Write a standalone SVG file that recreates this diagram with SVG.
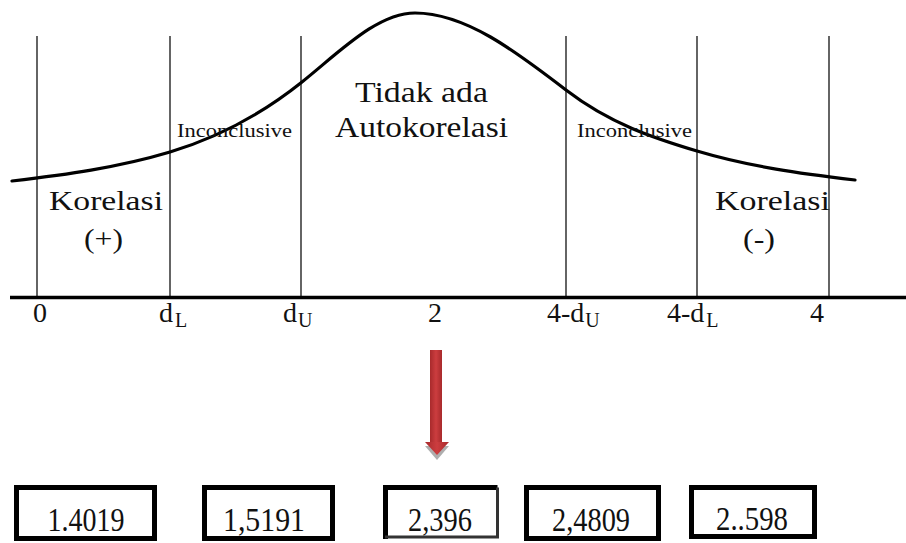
<svg xmlns="http://www.w3.org/2000/svg" width="906" height="543" viewBox="0 0 906 543">
<defs>
<style>
.t{font-family:"Liberation Serif","Times New Roman",serif;fill:#111}
.vl{stroke:#111;stroke-width:1.3}
.box{fill:#fff;stroke:#000;stroke-width:5}
.num{font-family:"Liberation Serif","Times New Roman",serif;font-size:34px;fill:#111;text-anchor:middle}
</style>
<linearGradient id="red" x1="0" y1="0" x2="1" y2="0">
<stop offset="0" stop-color="#a82a2c"/>
<stop offset="0.5" stop-color="#cc3d3f"/>
<stop offset="1" stop-color="#a82a2c"/>
</linearGradient>
</defs>
<rect width="906" height="543" fill="#fff"/>

<g id="grid">
<line class="vl" x1="37" y1="36" x2="37" y2="297"/>
<line class="vl" x1="170" y1="36" x2="170" y2="297"/>
<line class="vl" x1="301" y1="36" x2="301" y2="297"/>
<line class="vl" x1="566" y1="36" x2="566" y2="297"/>
<line class="vl" x1="697" y1="36" x2="697" y2="297"/>
<line class="vl" x1="829" y1="36" x2="829" y2="297"/>
<line x1="10" y1="297.5" x2="906" y2="297.5" stroke="#000" stroke-width="3.5"/>
</g>

<g id="curve">
<path d="M12,181 C64.7,174.7 117.3,167.8 170,152 C214,138.8 258,117.2 302,82 C339.7,51.8 377.3,13 415,13 C465.3,13 515.7,51.3 566,90 C609.7,123.6 653.3,137.9 697,151 C749.7,166.8 802.3,173.7 855,180" fill="none" stroke="#000" stroke-width="3.2" stroke-linecap="round"/>
</g>

<g id="labels">
<text class="t" x="355" y="102" font-size="30" textLength="133" lengthAdjust="spacingAndGlyphs">Tidak ada</text>
<text class="t" x="335" y="137" font-size="30" textLength="173" lengthAdjust="spacingAndGlyphs">Autokorelasi</text>
<text class="t" x="177" y="137" font-size="19" textLength="115" lengthAdjust="spacingAndGlyphs">Inconclusive</text>
<text class="t" x="577" y="137" font-size="19" textLength="115" lengthAdjust="spacingAndGlyphs">Inconclusive</text>
<text class="t" x="49" y="210" font-size="28" textLength="114" lengthAdjust="spacingAndGlyphs">Korelasi</text>
<text class="t" x="84" y="248" font-size="28" textLength="39" lengthAdjust="spacingAndGlyphs">(+)</text>
<text class="t" x="715" y="210" font-size="28" textLength="115" lengthAdjust="spacingAndGlyphs">Korelasi</text>
<text class="t" x="743" y="248" font-size="28" textLength="32" lengthAdjust="spacingAndGlyphs">(-)</text>
</g>

<g id="axis-labels">
<text class="t" x="33" y="322" font-size="28">0</text>
<text class="t" x="159" y="322" font-size="28">d<tspan font-size="20" dy="5" dx="2">L</tspan></text>
<text class="t" x="283" y="322" font-size="28">d<tspan font-size="20" dy="5" dx="1">U</tspan></text>
<text class="t" x="428" y="322" font-size="28">2</text>
<text class="t" x="547" y="322" font-size="28">4-d<tspan font-size="20" dy="5" dx="1">U</tspan></text>
<text class="t" x="667" y="322" font-size="28">4-d<tspan font-size="20" dy="5" dx="2">L</tspan></text>
<text class="t" x="810" y="322" font-size="28">4</text>
</g>

<g id="connectors">
<polygon points="425,446 449,446 437,460" fill="#9a9a9a" opacity="0.8"/>
<rect x="430" y="350" width="12" height="93" fill="url(#red)"/>
<polygon points="425,442 449,442 437,455" fill="url(#red)"/>
</g>

<g id="box1">
<rect class="box" x="16.5" y="487.5" width="138" height="51"/>
<text class="num" x="86" y="531" textLength="77" lengthAdjust="spacingAndGlyphs">1.4019</text>
</g>
<g id="box2">
<rect class="box" x="204.5" y="487.5" width="128" height="51"/>
<text class="num" x="264" y="531" textLength="82" lengthAdjust="spacingAndGlyphs">1,5191</text>
</g>
<g id="box3">
<rect x="383" y="485" width="116" height="53" fill="#fff"/>
<path d="M385.5,539 V487.5 H497.5" fill="none" stroke="#000" stroke-width="5"/>
<path d="M497.5,487.5 V537 H385" fill="none" stroke="#333" stroke-width="3"/>
<text class="num" x="440" y="531" textLength="64" lengthAdjust="spacingAndGlyphs">2,396</text>
</g>
<g id="box4">
<rect class="box" x="526.5" y="487.5" width="132" height="51"/>
<text class="num" x="591" y="531" textLength="78" lengthAdjust="spacingAndGlyphs">2,4809</text>
</g>
<g id="box5">
<rect class="box" x="691.5" y="487.5" width="123" height="49"/>
<text class="num" x="752" y="530" textLength="72" lengthAdjust="spacingAndGlyphs">2..598</text>
</g>
</svg>
